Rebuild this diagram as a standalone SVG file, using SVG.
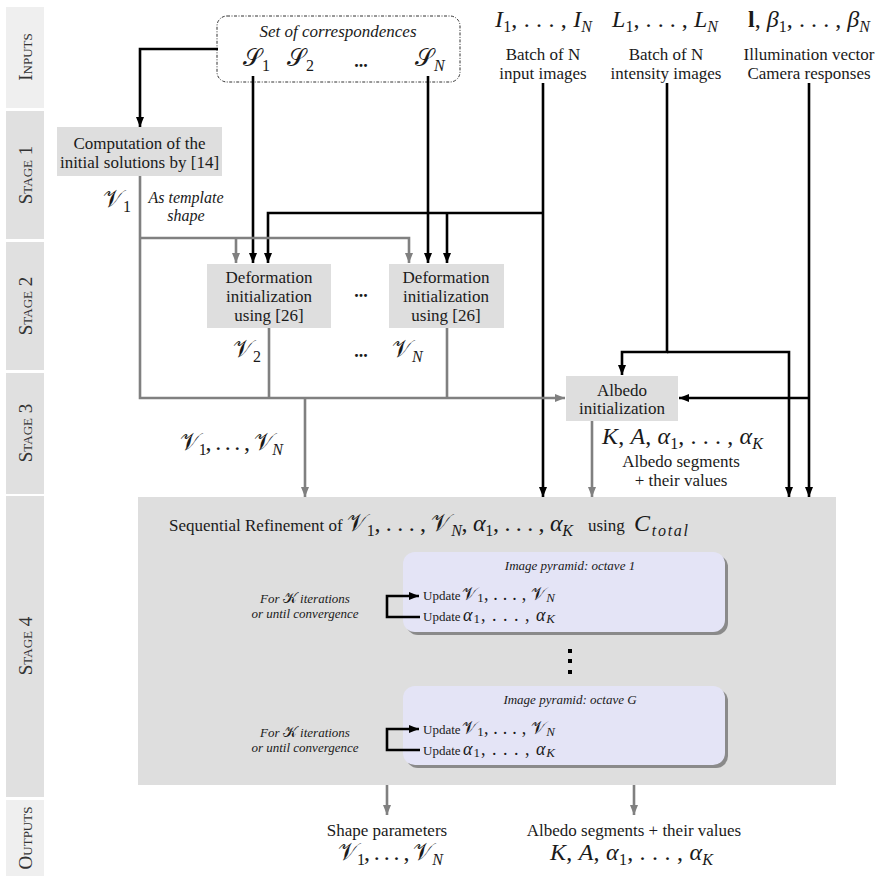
<svg xmlns="http://www.w3.org/2000/svg" width="879" height="884" viewBox="0 0 879 884">
<defs>
<style>
text { font-family: "Liberation Serif", "DejaVu Serif", serif; fill: #1a1a1a; }
.t { font-size: 17px; }
.i { font-style: italic; }
.c { text-anchor: middle; }
.sm { font-size: 13px; font-style: italic; }
.up13 { font-size: 13px; }
.m { font-size: 24px; font-style: italic; }
.m20 { font-size: 18px; font-style: italic; }
.s { font-size: 16px; }
.s2 { font-size: 13px; }
.up { font-style: normal; }
.cal { font-style: normal; font-weight: normal; }
.dots { font-size: 18px; font-weight: bold; text-anchor: middle; }
.stage { font-size: 19px; font-variant: small-caps; fill: #333; text-anchor: middle; }
.bk { stroke: #000; stroke-width: 2.6; fill: none; }
.gy { stroke: #808080; stroke-width: 2.6; fill: none; }
.box { fill: #dedede; }
.oct { fill: #e4e4f6; }
.sh { fill: #8a8a8a; }
</style>
<marker id="ab" viewBox="0 0 10 8" refX="10" refY="4" markerWidth="10" markerHeight="8" markerUnits="userSpaceOnUse" orient="auto">
<path d="M0,0 L10,4 L0,8 z" fill="#000"/>
</marker>
<marker id="ag" viewBox="0 0 10 8" refX="10" refY="4" markerWidth="10" markerHeight="8" markerUnits="userSpaceOnUse" orient="auto">
<path d="M0,0 L10,4 L0,8 z" fill="#808080"/>
</marker>
</defs>
<rect width="879" height="884" fill="#fff"/>

<g id="stages">
<rect x="6" y="7" width="38" height="101" fill="#efefef"/>
<rect x="6" y="111" width="38" height="128" fill="#e0e0e0"/>
<rect x="6" y="242" width="38" height="128" fill="#e0e0e0"/>
<rect x="6" y="373" width="38" height="121" fill="#e0e0e0"/>
<rect x="6" y="496" width="38" height="301" fill="#e0e0e0"/>
<rect x="6" y="800" width="38" height="76" fill="#efefef"/>
<text class="stage" transform="translate(32,57) rotate(-90)">Inputs</text>
<text class="stage" transform="translate(32,175) rotate(-90)">Stage 1</text>
<text class="stage" transform="translate(32,306) rotate(-90)">Stage 2</text>
<text class="stage" transform="translate(32,433) rotate(-90)">Stage 3</text>
<text class="stage" transform="translate(32,646) rotate(-90)">Stage 4</text>
<text class="stage" transform="translate(32,838) rotate(-90)">Outputs</text>
</g>

<g id="stage4-box">
<rect x="138" y="497" width="698" height="288" class="box"/>
</g>

<g id="correspondences">
<rect x="217" y="16" width="243" height="66" rx="10" fill="none" stroke="#333" stroke-width="1" stroke-dasharray="3 1.5 1 1.5"/>
<text class="t i c" x="338" y="37">Set of correspondences</text>
<text class="m" x="243" y="66"><tspan class="cal">𝒮</tspan><tspan class="s up" dy="5">1</tspan></text>
<text class="m" x="287" y="66"><tspan class="cal">𝒮</tspan><tspan class="s up" dy="5">2</tspan></text>
<text class="dots" x="361" y="67">...</text>
<text class="m" x="415" y="66"><tspan class="cal">𝒮</tspan><tspan class="s" dy="5">N</tspan></text>
</g>

<g id="input-images">
<text class="m" x="495" y="27" textLength="97" lengthAdjust="spacing">I<tspan class="s up" dy="5">1</tspan><tspan class="up" dy="-5">, . . . , </tspan>I<tspan class="s" dy="5">N</tspan></text>
<text class="t c" x="543" y="60">Batch of N</text>
<text class="t c" x="543" y="79">input images</text>
</g>

<g id="intensity-images">
<text class="m" x="612" y="27" textLength="106" lengthAdjust="spacing">L<tspan class="s up" dy="5">1</tspan><tspan class="up" dy="-5">, . . . , </tspan>L<tspan class="s" dy="5">N</tspan></text>
<text class="t c" x="666" y="60">Batch of N</text>
<text class="t c" x="666" y="79">intensity images</text>
</g>

<g id="illumination">
<text class="m" x="748" y="27" textLength="122" lengthAdjust="spacing"><tspan class="up" font-weight="bold">l</tspan><tspan class="up">, </tspan>β<tspan class="s up" dy="5">1</tspan><tspan class="up" dy="-5">, . . . , </tspan>β<tspan class="s" dy="5">N</tspan></text>
<text class="t c" x="809" y="60">Illumination vector</text>
<text class="t c" x="809" y="79">Camera responses</text>
</g>

<g id="computation">
<rect x="57" y="127" width="165" height="49" class="box"/>
<text class="t c" x="139.5" y="149">Computation of the</text>
<text class="t c" x="139.5" y="168">initial solutions by [14]</text>
<text class="m" x="103" y="207"><tspan class="cal">𝒱</tspan><tspan class="s up" dy="5">1</tspan></text>
<text class="i c" font-size="16" x="186" y="203">As template</text>
<text class="i c" font-size="16" x="186" y="221">shape</text>
</g>

<g id="deformation-1">
<rect x="207" y="264" width="124" height="64" class="box"/>
<text class="t c" x="269" y="283">Deformation</text>
<text class="t c" x="269" y="302">initialization</text>
<text class="t c" x="269" y="321">using [26]</text>
<text class="m" x="233" y="357"><tspan class="cal">𝒱</tspan><tspan class="s up" dy="5">2</tspan></text>
</g>

<g id="deformation-n">
<rect x="389" y="264" width="115" height="64" class="box"/>
<text class="t c" x="446" y="283">Deformation</text>
<text class="t c" x="446" y="302">initialization</text>
<text class="t c" x="446" y="321">using [26]</text>
<text class="m" x="392" y="357"><tspan class="cal">𝒱</tspan><tspan class="s" dy="5">N</tspan></text>
</g>

<g id="ellipses">
<text class="dots" x="361" y="297">...</text>
<text class="dots" x="361" y="357">...</text>
</g>

<g id="shapes-label">
<text class="m" x="180" y="450" textLength="103" lengthAdjust="spacing"><tspan class="cal">𝒱</tspan><tspan class="s up" dy="5">1</tspan><tspan class="up" dy="-5">, . . . , </tspan><tspan class="cal">𝒱</tspan><tspan class="s" dy="5">N</tspan></text>
</g>

<g id="albedo-init">
<rect x="566" y="376" width="112" height="45" class="box"/>
<text class="t c" x="622" y="396">Albedo</text>
<text class="t c" x="622" y="414">initialization</text>
<text class="m" x="602" y="444" textLength="161" lengthAdjust="spacing">K<tspan class="up">, </tspan>A<tspan class="up">, </tspan>α<tspan class="s up" dy="5">1</tspan><tspan class="up" dy="-5">, . . . , </tspan>α<tspan class="s" dy="5">K</tspan></text>
<text class="t c" x="681" y="467">Albedo segments</text>
<text class="t c" x="681" y="486">+ their values</text>
</g>

<g id="refinement">
<text class="t" x="169" y="531">Sequential Refinement of</text>
<text class="m" x="347" y="531" textLength="226" lengthAdjust="spacing"><tspan class="cal">𝒱</tspan><tspan class="s up" dy="5">1</tspan><tspan class="up" dy="-5">, . . . , </tspan><tspan class="cal">𝒱</tspan><tspan class="s" dy="5">N</tspan><tspan class="up" dy="-5">, </tspan>α<tspan class="s up" dy="5">1</tspan><tspan class="up" dy="-5">, . . . , </tspan>α<tspan class="s" dy="5">K</tspan></text>
<text class="t" x="588" y="531">using</text>
<text class="m" x="634" y="531" textLength="54" lengthAdjust="spacing">C<tspan class="s" dy="5">total</tspan></text>
</g>

<g id="octave-1">
<rect x="406" y="555" width="322" height="80" rx="12" class="sh"/>
<rect x="403" y="552" width="322" height="80" rx="12" class="oct"/>
<text class="sm c" x="570" y="570">Image pyramid: octave 1</text>
<text class="sm c" x="305" y="603">For <tspan class="cal" font-size="15">𝒦</tspan> iterations</text>
<text class="sm c" x="305" y="618">or until convergence</text>
<text class="up13" x="423" y="600">Update</text>
<text class="m20" x="462" y="600" textLength="93" lengthAdjust="spacing"><tspan class="cal">𝒱</tspan><tspan class="s2 up" dy="2">1</tspan><tspan class="up" dy="-2">, . . . , </tspan><tspan class="cal">𝒱</tspan><tspan class="s2" dy="2">N</tspan></text>
<text class="up13" x="423" y="621">Update</text>
<text class="m20" x="463" y="621" textLength="92" lengthAdjust="spacing">α<tspan class="s2 up" dy="2">1</tspan><tspan class="up" dy="-2">, . . . , </tspan>α<tspan class="s2" dy="2">K</tspan></text>
</g>

<g id="octave-dots">
<rect x="568" y="649" width="4" height="4" fill="#000"/>
<rect x="568" y="659" width="4" height="4" fill="#000"/>
<rect x="568" y="670" width="4" height="4" fill="#000"/>
</g>

<g id="octave-g">
<rect x="406" y="689" width="322" height="79" rx="12" class="sh"/>
<rect x="403" y="686" width="322" height="79" rx="12" class="oct"/>
<text class="sm c" x="570" y="704">Image pyramid: octave G</text>
<text class="sm c" x="305" y="737">For <tspan class="cal" font-size="15">𝒦</tspan> iterations</text>
<text class="sm c" x="305" y="752">or until convergence</text>
<text class="up13" x="423" y="734">Update</text>
<text class="m20" x="462" y="734" textLength="93" lengthAdjust="spacing"><tspan class="cal">𝒱</tspan><tspan class="s2 up" dy="2">1</tspan><tspan class="up" dy="-2">, . . . , </tspan><tspan class="cal">𝒱</tspan><tspan class="s2" dy="2">N</tspan></text>
<text class="up13" x="423" y="755">Update</text>
<text class="m20" x="463" y="755" textLength="92" lengthAdjust="spacing">α<tspan class="s2 up" dy="2">1</tspan><tspan class="up" dy="-2">, . . . , </tspan>α<tspan class="s2" dy="2">K</tspan></text>
</g>

<g id="outputs">
<text class="t c" x="387" y="836">Shape parameters</text>
<text class="m" x="338" y="860" textLength="105" lengthAdjust="spacing"><tspan class="cal">𝒱</tspan><tspan class="s up" dy="5">1</tspan><tspan class="up" dy="-5">, . . . , </tspan><tspan class="cal">𝒱</tspan><tspan class="s" dy="5">N</tspan></text>
<text class="t c" x="634" y="836">Albedo segments + their values</text>
<text class="m" x="550" y="860" textLength="163" lengthAdjust="spacing">K<tspan class="up">, </tspan>A<tspan class="up">, </tspan>α<tspan class="s up" dy="5">1</tspan><tspan class="up" dy="-5">, . . . , </tspan>α<tspan class="s" dy="5">K</tspan></text>
</g>

<g id="connectors">
<path class="bk" d="M218,49 H140 V127" marker-end="url(#ab)"/>
<path class="bk" d="M253,76 V263" marker-end="url(#ab)"/>
<path class="bk" d="M428,76 V263" marker-end="url(#ab)"/>
<path class="bk" d="M543,83 V497" marker-end="url(#ab)"/>
<path class="bk" d="M543,213 H268 V263" marker-end="url(#ab)"/>
<path class="bk" d="M447,213 V263" marker-end="url(#ab)"/>
<path class="bk" d="M667,83 V352 H622 V375" marker-end="url(#ab)"/>
<path class="bk" d="M667,352 H789 V497" marker-end="url(#ab)"/>
<path class="bk" d="M809,83 V497" marker-end="url(#ab)"/>
<path class="bk" d="M809,398 H679" marker-end="url(#ab)"/>
<path class="gy" d="M140,176 V398 H565" marker-end="url(#ag)"/>
<path class="gy" d="M140,238 H409 V263" marker-end="url(#ag)"/>
<path class="gy" d="M236,238 V263" marker-end="url(#ag)"/>
<path class="gy" d="M269,328 V398"/>
<path class="gy" d="M447,328 V398"/>
<path class="gy" d="M305,398 V497" marker-end="url(#ag)"/>
<path class="gy" d="M592,421 V497" marker-end="url(#ag)"/>
<path class="gy" d="M387,785 V815" marker-end="url(#ag)"/>
<path class="gy" d="M634,785 V815" marker-end="url(#ag)"/>
<path class="bk" stroke-width="3" d="M420,617 H387 V596 H419" marker-end="url(#ab)"/>
<path class="bk" stroke-width="3" d="M420,750 H387 V729 H419" marker-end="url(#ab)"/>
</g>
</svg>
